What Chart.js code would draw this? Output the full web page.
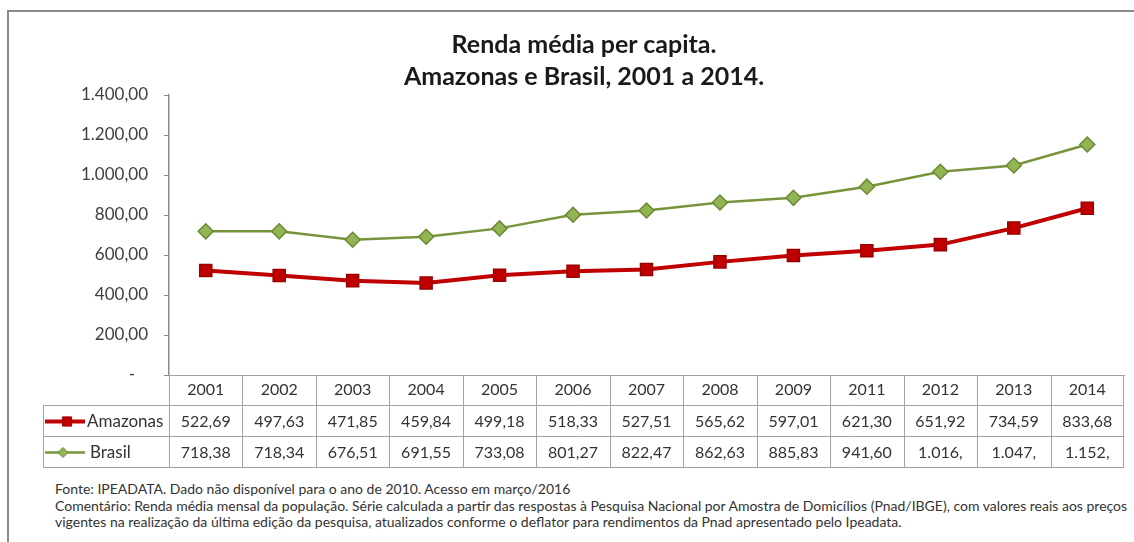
<!DOCTYPE html>
<html lang="pt-BR">

<head>
  <meta charset="UTF-8" />
  <title>Renda média per capita - Amazonas e Brasil</title>
  <script src="https://cdn.jsdelivr.net/npm/chart.js"></script>

  <style>
    body {
      margin: 0;
      background: #fff;
      font-family: Lato, "Open Sans", sans-serif;
    }

    .moldura {
      position: absolute;
      left: 7px;
      top: 10px;
      width: 1140px;
      height: 540px;
      border-top: 2px solid #8a8a8a;
      border-left: 2px solid #8a8a8a;
    }

    #grafico {
      position: absolute;
      left: 0;
      top: 0;
    }

    h2 {
      position: absolute;
      top: 27px;
      left: 284px;
      width: 600px;
      margin: 0;
      text-align: center;
      font: bold 25px Lato, sans-serif;
      line-height: 32px;
      color: #1a1a1a;
    }

    .fonte {
      position: absolute;
      left: 55px;
      top: 481px;
      margin: 0;
      font-size: 14px;
      line-height: 16.5px;
      color: #333;
      white-space: nowrap;
    }
  </style>
</head>

<body>
  <div class="moldura"></div>
  <canvas id="grafico" width="1134" height="470"></canvas>
  <h2>Renda média per capita.<br>Amazonas e Brasil, 2001 a 2014.</h2>
  <p class="fonte">
    Fonte: IPEADATA. Dado não disponível para o ano de 2010. Acesso em março/2016<br>
    Comentário: Renda média mensal da população. Série calculada a partir das respostas à Pesquisa Nacional por Amostra de Domicílios (Pnad/IBGE), com valores reais aos preços<br>
    vigentes na realização da última edição da pesquisa, atualizados conforme o deflator para rendimentos da Pnad apresentado pelo Ipeadata.
  </p>

  <script>
    // dados (2010 não disponível)
    const anos = ['2001', '2002', '2003', '2004', '2005', '2006', '2007', '2008', '2009', '2011', '2012', '2013', '2014'];
    const amazonas = [522.69, 497.63, 471.85, 459.84, 499.18, 518.33, 527.51, 565.62, 597.01, 621.30, 651.92, 734.59, 833.68];
    const brasil = [718.38, 718.34, 676.51, 691.55, 733.08, 801.27, 822.47, 862.63, 885.83, 941.60, 1016.45, 1047.30, 1152.20];
    const yMax = 1400;
    const yPasso = 200;

    function formatar(v) {
      const partes = v.toFixed(2).split('.');
      return partes[0].replace(/\B(?=(\d{3})+(?!\d))/g, '.') + ',' + partes[1];
    }

    // o Excel corta o número quando não cabe na célula
    function textoCelula(v) {
      const t = formatar(v);
      return t.length > 6 ? t.slice(0, 6) : t;
    }

    const series = [
      { nome: 'Amazonas', dados: amazonas },
      { nome: 'Brasil', dados: brasil }
    ];

    // tabela de dados abaixo do eixo x
    const tabelaDados = {
      id: 'tabelaDados',
      afterDraw(chart) {
        const ctx = chart.ctx;
        const area = chart.chartArea;
        const x = chart.scales.x;
        const passo = x.getPixelForValue(1) - x.getPixelForValue(0);
        const esquerda = 43;
        const cab = x.bottom;
        const alt = 31;
        const base = cab + alt * series.length;

        ctx.save();
        ctx.strokeStyle = '#a3a3a3';
        ctx.lineWidth = 1;

        function linha(x1, y1, x2, y2) {
          ctx.beginPath();
          ctx.moveTo(x1, y1);
          ctx.lineTo(x2, y2);
          ctx.stroke();
        }

        for (let r = 0; r <= series.length; r++) {
          linha(esquerda, cab + r * alt + 0.5, area.right, cab + r * alt + 0.5);
        }
        linha(esquerda + 0.5, cab, esquerda + 0.5, base);
        for (let i = 0; i < anos.length; i++) {
          const xb = Math.round(x.getPixelForValue(i) - passo / 2) + 0.5;
          linha(xb, area.bottom, xb, base);
        }
        linha(area.right - 0.5, area.bottom, area.right - 0.5, base);

        ctx.font = '16px Lato, sans-serif';
        ctx.textBaseline = 'middle';

        series.forEach((s, r) => {
          const yc = cab + r * alt + alt / 2 + 1;
          ctx.fillStyle = '#333';
          ctx.textAlign = 'center';
          s.dados.forEach((v, i) => {
            ctx.fillText(textoCelula(v), x.getPixelForValue(i), yc);
          });

          // chave da legenda
          const ds = chart.data.datasets[r];
          ctx.strokeStyle = ds.borderColor;
          ctx.lineWidth = r === 0 ? 4 : 2.5;
          linha(45, yc, 85, yc);
          ctx.fillStyle = ds.pointBackgroundColor;
          ctx.strokeStyle = ds.pointBorderColor;
          ctx.lineWidth = 1;
          Chart.helpers.drawPoint(ctx, {
            pointStyle: ds.pointStyle,
            radius: r === 0 ? 6.5 : 5,
            borderWidth: 1
          }, r === 0 ? 67 : 63, yc);

          ctx.fillStyle = '#333';
          ctx.textAlign = 'left';
          ctx.font = '17px Lato, sans-serif';
          ctx.fillText(s.nome, r === 0 ? 87 : 90, yc);
          ctx.font = '16px Lato, sans-serif';
          ctx.strokeStyle = '#a3a3a3';
        });
        ctx.restore();
      }
    };

    new Chart(document.getElementById('grafico'), {
      type: 'line',
      data: {
        labels: anos,
        datasets: [
          {
            label: 'Amazonas',
            data: amazonas,
            borderColor: '#c00000',
            borderWidth: 4,
            pointStyle: 'rect',
            pointRadius: 8.5,
            pointBackgroundColor: '#c00000',
            pointBorderColor: '#9a0000',
            pointBorderWidth: 1.5,
            tension: 0
          },
          {
            label: 'Brasil',
            data: brasil,
            borderColor: '#77933c',
            borderWidth: 2.5,
            pointStyle: 'rectRot',
            pointRadius: 7.5,
            pointBackgroundColor: '#93b453',
            pointBorderColor: '#6b8a33',
            pointBorderWidth: 1.5,
            tension: 0
          }
        ]
      },
      options: {
        responsive: false,
        animation: false,
        layout: {
          padding: { left: 35, right: 3, top: 95, bottom: 65 }
        },
        plugins: {
          legend: { display: false },
          tooltip: { enabled: false }
        },
        scales: {
          x: {
            offset: true,
            grid: { display: false, drawTicks: false },
            border: { color: '#a3a3a3', width: 1 },
            ticks: {
              padding: 5,
              color: '#333',
              font: { family: 'Lato', size: 16 }
            },
            afterFit: s => { s.height = 30; }
          },
          y: {
            min: 0,
            max: yMax,
            grid: {
              drawOnChartArea: false,
              drawTicks: true,
              tickLength: 5,
              color: '#8c8c8c'
            },
            border: { color: '#8c8c8c', width: 1.5 },
            ticks: {
              stepSize: yPasso,
              padding: 16,
              color: '#404040',
              font: { family: 'Lato', size: 17 },
              callback: v => v === 0 ? '-   ' : formatar(v)
            },
            afterFit: s => { s.width = 134; }
          }
        }
      },
      plugins: [tabelaDados]
    });
  </script>
</body>

</html>
